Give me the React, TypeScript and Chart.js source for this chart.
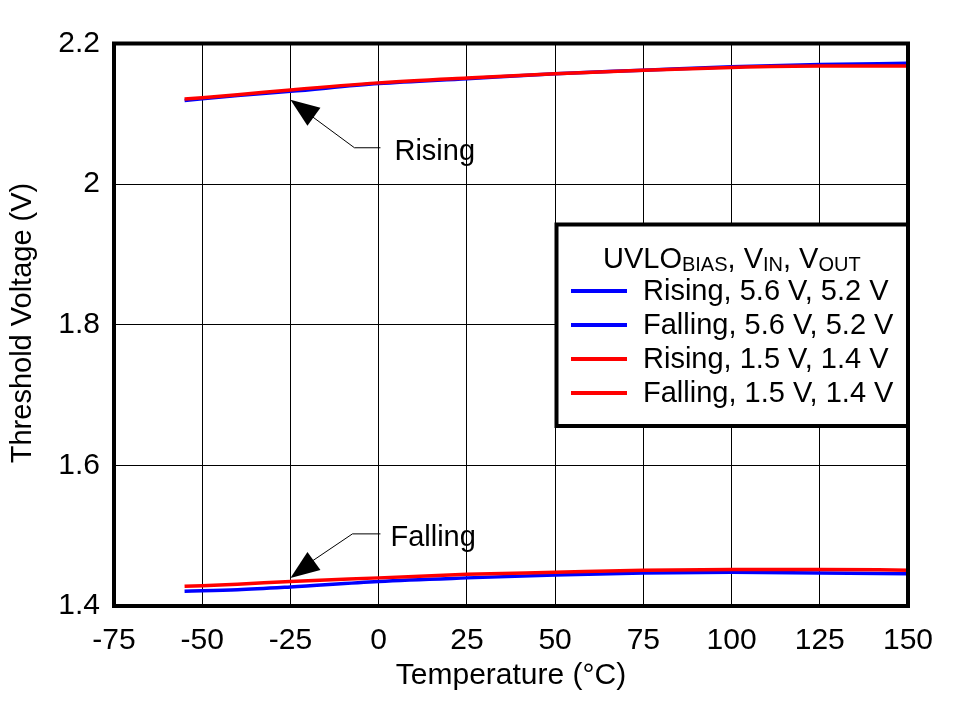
import React, { useEffect, useRef } from 'react';
import { Chart, registerables } from 'chart.js';
Chart.register(...registerables);

const FONT = '"Liberation Sans", Arial, sans-serif';

const temps = [-55, -40, -25, 0, 25, 50, 75, 100, 125, 150];
const risingHigh = [2.119, 2.126, 2.132, 2.143, 2.150, 2.157, 2.162, 2.167, 2.170, 2.172];
const fallingHigh = [1.421, 1.423, 1.427, 1.435, 1.440, 1.444, 1.447, 1.448, 1.447, 1.446];
const risingLow = [2.121, 2.127, 2.134, 2.144, 2.151, 2.157, 2.162, 2.166, 2.168, 2.168];
const fallingLow = [1.428, 1.431, 1.435, 1.440, 1.445, 1.448, 1.451, 1.452, 1.452, 1.451];

const seriesLabels = ['Rising, 5.6 V, 5.2 V', 'Falling, 5.6 V, 5.2 V', 'Rising, 1.5 V, 1.4 V', 'Falling, 1.5 V, 1.4 V'];
const seriesColors = ['#0000FF', '#0000FF', '#FF0000', '#FF0000'];

const xTickValues = [-75, -50, -25, 0, 25, 50, 75, 100, 125, 150];
const yTickValues = [1.4, 1.6, 1.8, 2.0, 2.2];

const annotations = [
  { text: 'Rising', x: -25, y: 2.12, dir: 1, elbow: 64, run: 48, textDx: 104, textDy: 52 },
  { text: 'Falling', x: -25, y: 1.44, dir: -1, elbow: 62, run: 44, textDx: 100, textDy: 40 },
];

const xTitle = 'Temperature (°C)';
const yTitle = 'Threshold Voltage (V)';

const overlayPlugin = {
  id: 'overlay',
  afterDraw(chart: any) {
    const ctx = chart.ctx as CanvasRenderingContext2D;
    const { left, right, top, bottom } = chart.chartArea;
    const xs = chart.scales.x;
    const ys = chart.scales.y;
    ctx.save();
    // annotations
    annotations.forEach((a) => {
      const tx = xs.getPixelForValue(a.x);
      const ty = ys.getPixelForValue(a.y);
      const d = a.dir;
      ctx.fillStyle = '#000';
      ctx.beginPath();
      ctx.moveTo(tx, ty);
      ctx.lineTo(tx + 30, ty + 8 * d);
      ctx.lineTo(tx + 17, ty + 26 * d);
      ctx.closePath();
      ctx.fill();
      ctx.strokeStyle = '#000';
      ctx.lineWidth = 1;
      ctx.beginPath();
      ctx.moveTo(tx + 22, ty + 17 * d);
      ctx.lineTo(tx + a.elbow, ty + a.run * d);
      ctx.lineTo(tx + 90, ty + a.run * d);
      ctx.stroke();
      ctx.font = `29px ${FONT}`;
      ctx.textAlign = 'left';
      ctx.textBaseline = 'middle';
      ctx.fillText(a.text, tx + a.textDx, ty + a.textDy * d);
    });

    // frame
    ctx.strokeStyle = '#000';
    ctx.lineWidth = 4;
    ctx.strokeRect(left, top, right - left, bottom - top);

    // legend
    const lx = 556.5, ly = 224.5, lw = right - 556.5, lh = 201.5;
    ctx.fillStyle = '#fff';
    ctx.fillRect(lx, ly, lw, lh);
    ctx.lineWidth = 4;
    ctx.strokeRect(lx, ly, lw, lh);

    ctx.fillStyle = '#000';
    ctx.textBaseline = 'alphabetic';
    ctx.textAlign = 'left';
    const parts: [string, boolean][] = [['UVLO', false], ['BIAS', true], [', V', false], ['IN', true], [', V', false], ['OUT', true]];
    let px = 603;
    const base = 268;
    parts.forEach(([t, sub]) => {
      ctx.font = sub ? `20px ${FONT}` : `29px ${FONT}`;
      ctx.fillText(t, px, sub ? base + 3 : base);
      px += ctx.measureText(t).width;
    });

    const rows = [291, 325, 359, 393];
    ctx.font = `29px ${FONT}`;
    ctx.textBaseline = 'middle';
    seriesLabels.forEach((lab, i) => {
      ctx.strokeStyle = seriesColors[i];
      ctx.lineWidth = 4;
      ctx.beginPath();
      ctx.moveTo(571, rows[i]);
      ctx.lineTo(627, rows[i]);
      ctx.stroke();
      ctx.fillStyle = '#000';
      ctx.fillText(lab, 643, rows[i] + 1);
    });

    // axis titles
    ctx.font = `30px ${FONT}`;
    ctx.textAlign = 'center';
    ctx.textBaseline = 'middle';
    ctx.fillText(xTitle, (left + right) / 2, 676);
    ctx.save();
    ctx.font = `29px ${FONT}`;
    ctx.translate(23, 323);
    ctx.rotate(-Math.PI / 2);
    ctx.fillText(yTitle, 0, 0);
    ctx.restore();

    ctx.restore();
  },
};

export default function App() {
  const ref = useRef<HTMLCanvasElement>(null);
  useEffect(() => {
    if (!ref.current) return;
    const mk = (data: number[], i: number, order: number) => ({
      label: seriesLabels[i],
      data: temps.map((t, k) => ({ x: t, y: data[k] })),
      borderColor: seriesColors[i],
      backgroundColor: seriesColors[i],
      borderWidth: 3.5,
      pointRadius: 0,
      cubicInterpolationMode: 'monotone' as const,
      order,
    });
    const chart = new Chart(ref.current, {
      type: 'line',
      data: {
        datasets: [
          mk(risingHigh, 0, 1),
          mk(fallingHigh, 1, 1),
          mk(risingLow, 2, 0),
          mk(fallingLow, 3, 0),
        ],
      },
      options: {
        animation: false,
        responsive: false,
        devicePixelRatio: 1,
        layout: { padding: { top: 43.5, right: 48, left: 0, bottom: 0 } },
        plugins: { legend: { display: false }, tooltip: { enabled: false } },
        scales: {
          x: {
            type: 'linear',
            min: -75,
            max: 150,
            afterBuildTicks: (s: any) => { s.ticks = xTickValues.map((v) => ({ value: v })); },
            afterFit: (s: any) => { s.height = 701 - 606; },
            ticks: {
              color: '#000',
              font: { family: FONT, size: 30 },
              padding: 17,
              maxRotation: 0,
              autoSkip: false,
              callback: (v: any) => String(v),
            },
            grid: { color: '#000', lineWidth: 1, drawTicks: false },
            border: { display: false },
          },
          y: {
            type: 'linear',
            min: 1.4,
            max: 2.2,
            afterBuildTicks: (s: any) => { s.ticks = yTickValues.map((v) => ({ value: v })); },
            afterFit: (s: any) => { s.width = 114; },
            ticks: {
              color: '#000',
              font: { family: FONT, size: 30 },
              padding: 14,
              autoSkip: false,
              callback: (v: any) => String(Math.round(Number(v) * 10) / 10),
            },
            grid: { color: '#000', lineWidth: 1, drawTicks: false },
            border: { display: false },
          },
        },
      },
      plugins: [overlayPlugin],
    });
    return () => chart.destroy();
  }, []);
  return (
    <div style={{ position: 'fixed', left: 0, top: 0, width: 956, height: 701, background: '#fff' }}>
      <canvas ref={ref} width={956} height={701} style={{ width: 956, height: 701 }} />
    </div>
  );
}
